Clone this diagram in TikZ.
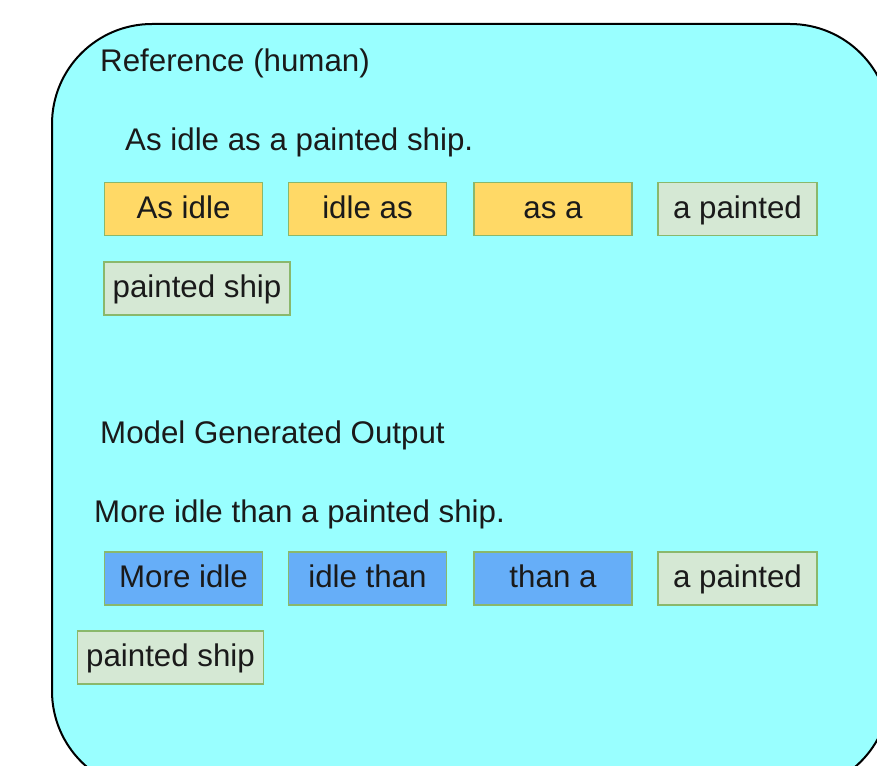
\documentclass[tikz,border=0pt]{standalone}
\usepackage{fontspec}
\setmainfont{Liberation Sans}
\definecolor{bgcyan}{HTML}{99FFFF}
\definecolor{orng}{HTML}{FFD966}
\definecolor{grn}{HTML}{D5E8D4}
\definecolor{blu}{HTML}{66AEF8}
\definecolor{edge}{HTML}{8AB86C}
\definecolor{txt}{HTML}{1A1A1A}
\tikzset{
  lbl/.style={anchor=base west, inner sep=0pt, text=txt, font=\fontsize{31.3}{36}\selectfont},
  tok/.style={draw=edge, line width=1.6pt, minimum height=53pt, inner sep=0pt, text height=22pt, text depth=4pt, text=txt, font=\fontsize{31.3}{36}\selectfont},
  wide/.style={tok, minimum width=158pt},
  otok/.style={wide, fill=orng},
  btok/.style={wide, fill=blu},
  gtok/.style={tok, fill=grn},
}
\begin{document}
\begin{tikzpicture}[x=1pt,y=-1pt]
\useasboundingbox (0,0) rectangle (877,765);
\fill[white] (0,0) rectangle (877,765);
\begin{scope}
\clip (0,0) rectangle (877,765);
\draw[fill=bgcyan, line width=2pt, rounded corners=100pt] (52,24) rectangle (890,791);
\end{scope}
\node[lbl] (t1) at (100,72) {Reference (human)};
\node[lbl] (t2) at (125,150) {As idle as a painted ship.};
\node[otok] (a1) at (183.5,209) {As idle};
\node[otok] (a2) at (367.5,209) {idle as};
\node[otok] (a3) at (553,209) {as a};
\node[gtok, minimum width=159pt] (a4) at (737.5,209) {a painted};
\node[gtok, minimum width=186pt] (a5) at (197,288.5) {painted ship};
\node[lbl] (t3) at (100,443) {Model Generated Output};
\node[lbl] (t4) at (94,522) {More idle than a painted ship.};
\node[btok] (b1) at (183.5,578.5) {More idle};
\node[btok] (b2) at (367.5,578.5) {idle than};
\node[btok] (b3) at (553,578.5) {than a};
\node[gtok, minimum width=159pt] (b4) at (737.5,578.5) {a painted};
\node[gtok, minimum width=186pt] (b5) at (170.5,657.5) {painted ship};
\end{tikzpicture}
\end{document}
